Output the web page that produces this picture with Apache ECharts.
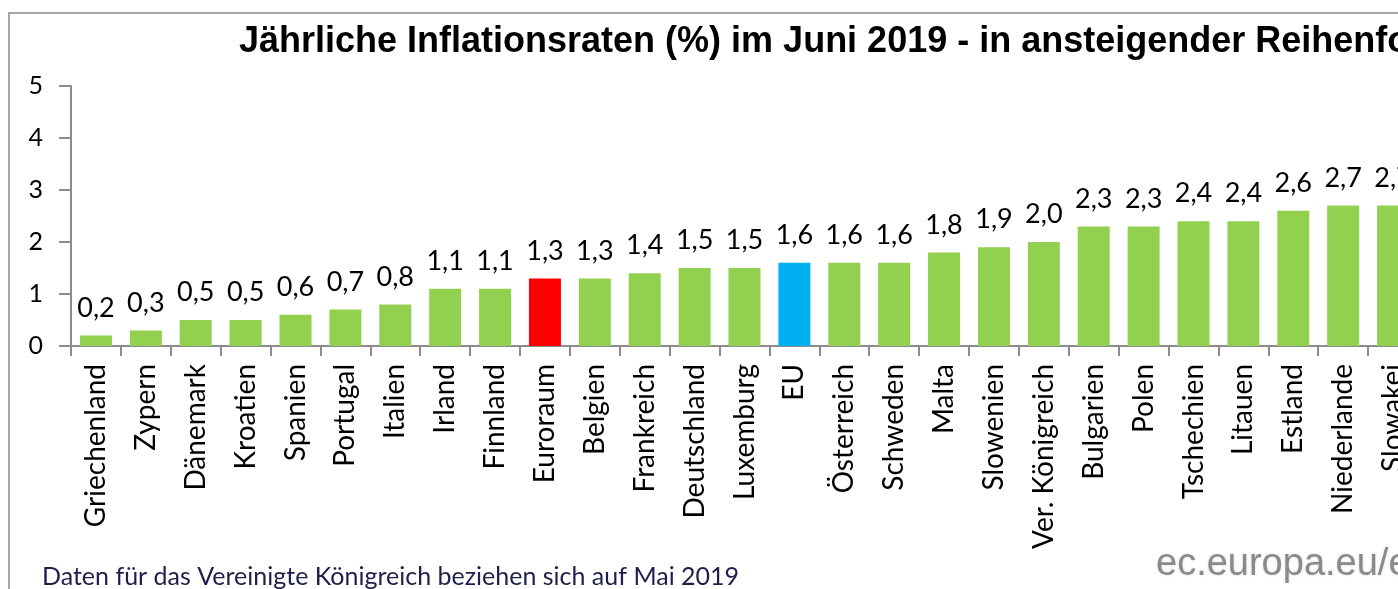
<!DOCTYPE html>
<html>
<head>
<meta charset="utf-8">
<script src="https://cdn.jsdelivr.net/npm/echarts@6/dist/echarts.min.js"></script>
<style>
  html, body { margin: 0; padding: 0; overflow: hidden; background: #fff; }
  #chart { width: 1450px; height: 589px; }
</style>
</head>
<body>
<div id="chart"></div>
<script>
// Länder in aufsteigender Reihenfolge (Juni 2019)
const countries = [
  'Griechenland', 'Zypern', 'Dänemark', 'Kroatien', 'Spanien', 'Portugal', 'Italien',
  'Irland', 'Finnland', 'Euroraum', 'Belgien', 'Frankreich', 'Deutschland', 'Luxemburg',
  'EU', 'Österreich', 'Schweden', 'Malta', 'Slowenien', 'Ver. Königreich', 'Bulgarien',
  'Polen', 'Tschechien', 'Litauen', 'Estland', 'Niederlande', 'Slowakei'
]
const rates = [
  0.2, 0.3, 0.5, 0.5, 0.6, 0.7, 0.8,
  1.1, 1.1, 1.3, 1.3, 1.4, 1.5, 1.5,
  1.6, 1.6, 1.6, 1.8, 1.9, 2.0, 2.3,
  2.3, 2.4, 2.4, 2.6, 2.7, 2.7
]
const yTicks = [0, 1, 2, 3, 4, 5]

const TITLE = 'Jährliche Inflationsraten (%) im Juni 2019 - in ansteigender Reihenfolge'
const NOTE = 'Daten für das Vereinigte Königreich beziehen sich auf Mai 2019'
const SOURCE = 'ec.europa.eu/eurostat'

const GREEN = '#92d050'
const highlight = { 'Euroraum': '#ff0000', 'EU': '#00b0f0' }
const LABEL_FONT = 'Lato, "Open Sans", sans-serif'
const AXIS_GREY = '#8c8c8c'

const chart = echarts.init(document.getElementById('chart'))

const barData = rates.map((v, i) => ({
  value: v,
  itemStyle: { color: highlight[countries[i]] || GREEN }
}))

chart.setOption({
  animation: false,
  title: {
    text: TITLE,
    left: 234,
    top: 19,
    textStyle: { fontFamily: '"Liberation Sans", Arial, sans-serif', fontSize: 36, fontWeight: 'bold', color: '#000' }
  },
  graphic: [
    {
      type: 'rect',
      shape: { x: 9, y: 13, width: 2000, height: 1000 },
      style: { fill: 'none', stroke: '#a6a6a6', lineWidth: 2 },
      silent: true
    },
    {
      type: 'text',
      left: 42,
      top: 564,
      style: { text: NOTE, fontFamily: LABEL_FONT, fontSize: 25, fill: '#1f1f4d' }
    },
    {
      type: 'text',
      left: 1156,
      top: 546,
      style: {
        text: SOURCE, fontFamily: '"Liberation Sans", Arial, sans-serif', fontSize: 38,
        fill: '#8a8a8a', textShadowColor: 'rgba(0,0,0,0.15)', textShadowBlur: 3
      }
    }
  ],
  grid: { left: 71, top: 86, width: 1347, height: 260 },
  xAxis: {
    type: 'category',
    data: countries,
    axisLine: { lineStyle: { color: AXIS_GREY, width: 2 } },
    axisTick: { show: true, length: 10, lineStyle: { color: AXIS_GREY, width: 2 } },
    axisLabel: {
      interval: 0, rotate: 90, margin: 18,
      fontFamily: LABEL_FONT, fontSize: 28, color: '#000'
    }
  },
  yAxis: {
    type: 'value',
    min: yTicks[0],
    max: yTicks[yTicks.length - 1],
    interval: 1,
    splitLine: { show: false },
    axisLine: { show: true, lineStyle: { color: AXIS_GREY, width: 2 } },
    axisTick: { show: true, length: 12, lineStyle: { color: AXIS_GREY, width: 2 } },
    axisLabel: { margin: 28, fontFamily: LABEL_FONT, fontSize: 25, color: '#000' }
  },
  series: [{
    type: 'bar',
    data: barData,
    barWidth: 32,
    label: {
      show: true,
      position: 'top',
      distance: 14,
      fontFamily: LABEL_FONT,
      fontSize: 27,
      color: '#000',
      formatter: p => p.value.toFixed(1).replace('.', ',')
    }
  }]
})
</script>
</body>
</html>
